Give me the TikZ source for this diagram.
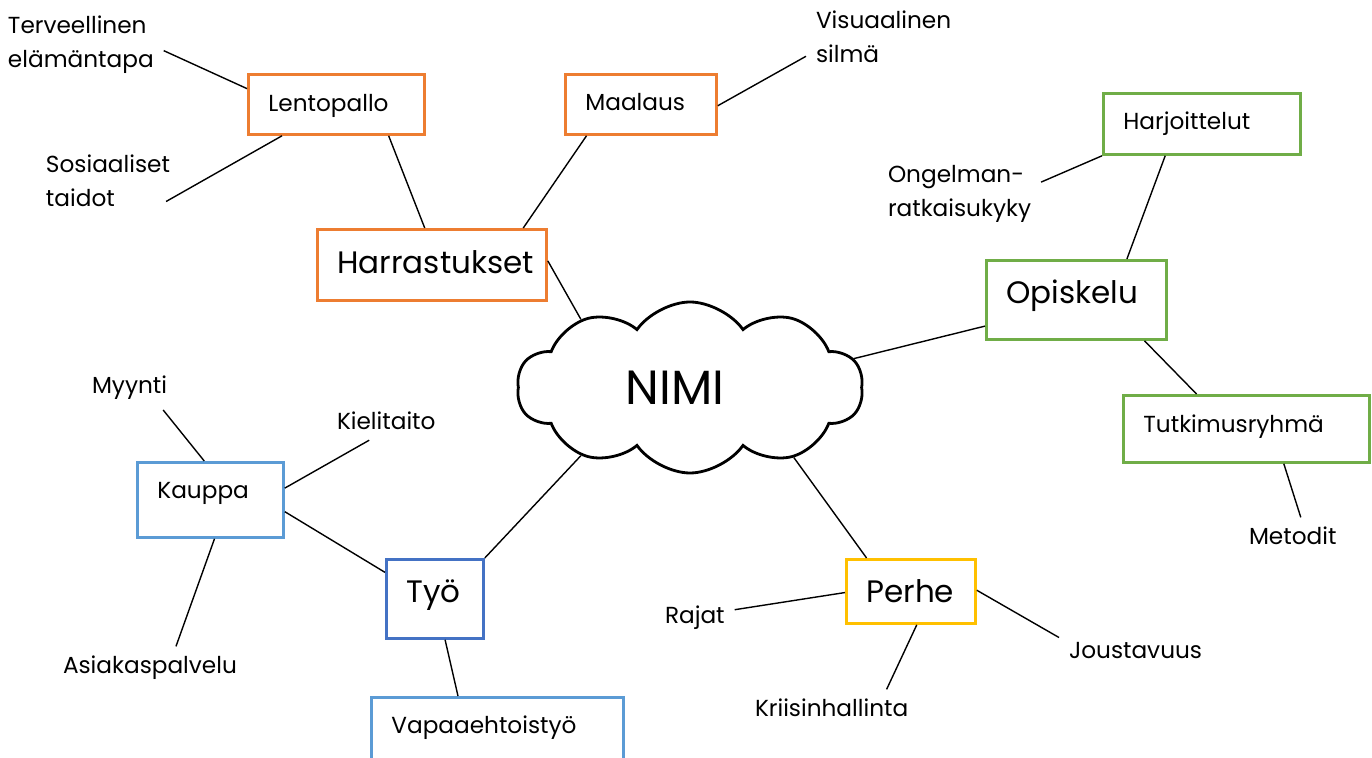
\documentclass[tikz,border=0pt]{standalone}
\usepackage{fontspec}
\setmainfont{Poppins}
\usetikzlibrary{shapes.symbols}
\definecolor{orangeline}{RGB}{237,125,49}
\definecolor{greenline}{RGB}{112,173,71}
\definecolor{skyline}{RGB}{91,155,213}
\definecolor{blueline}{RGB}{68,114,196}
\definecolor{goldline}{RGB}{255,192,0}
\begin{document}
\begin{tikzpicture}[x=0.5pt, y=-0.5pt,
    box/.style={draw, line width=1.4pt, anchor=north west, align=left,
        inner xsep=10pt, inner ysep=0pt, font=\fontsize{11.6}{17}\selectfont},
    bigbox/.style={box, font=\fontsize{15.5}{19}\selectfont},
    note/.style={inner sep=0pt, outer sep=5pt, align=left,
        font=\fontsize{11.6}{17}\selectfont},
    link/.style={line width=0.7pt}]
    \useasboundingbox (0,0) rectangle (1372,758);
    \clip (0,0) rectangle (1372,758);

    % centre
    \node[cloud, draw, line width=1.4pt, cloud puffs=10, cloud puff arc=110,
        cloud ignores aspect, minimum width=173pt, minimum height=85.5pt,
        font=\fontsize{24}{28}\selectfont] (nimi) at (690,387.5) {NIMI\hspace*{15pt}};

    % Harrastukset
    \node[bigbox, draw=orangeline, text width=94.5pt, text height=22pt, text depth=13.5pt] (harr) at (316,228) {Harrastukset};
    \node[box, draw=orangeline, text width=68pt, text height=18.5pt, text depth=11.5pt] (lento) at (247,73) {Lentopallo};
    \node[box, draw=orangeline, text width=55.5pt, text height=18pt, text depth=12pt] (maal) at (564,73) {Maalaus};
    \node[note, anchor=north west] (terv) at (-2,6) {Terveellinen\\elämäntapa};
    \node[note, anchor=north west] (sosi) at (36,145) {Sosiaaliset\\taidot};
    \node[note, anchor=north west] (visu) at (806,1) {Visuaalinen\\silmä};

    % Opiskelu
    \node[bigbox, draw=greenline, text width=70pt, text height=21.5pt, text depth=18pt] (opis) at (985,259) {Opiskelu};
    \node[box, draw=greenline, text width=78.5pt, text height=18pt, text depth=12.5pt] (harj) at (1102,92) {Harjoittelut};
    \node[box, draw=greenline, text width=103pt, text height=18.5pt, text depth=15pt] (tutk) at (1122,394) {Tutkimusryhmä};
    \node[note, anchor=north west] (onge) at (878,155) {Ongelman-\\ratkaisukyky};
    \node[note, anchor=base west] (meto) at (1239,545) {Metodit};

    % Perhe
    \node[bigbox, draw=goldline, text width=44.5pt, text height=21.5pt, text depth=10.5pt] (perh) at (845,558) {Perhe};
    \node[note, anchor=base west] (raja) at (655,624) {Rajat};
    \node[note, anchor=base west] (krii) at (745,717) {Kriisinhallinta};
    \node[note, anchor=base west] (jous) at (1059,659) {Joustavuus};

    % Työ
    \node[bigbox, draw=blueline, text width=28.5pt, text height=21.5pt, text depth=18pt] (tyo) at (385,558) {Työ};
    \node[box, draw=skyline, text width=53pt, text height=18pt, text depth=19.5pt] (kaup) at (136,461) {Kauppa};
    \node[box, draw=skyline, text width=106pt, text height=18pt, text depth=20pt] (vapa) at (370,696) {Vapaaehtoistyö};
    \node[note, anchor=base west] (myyn) at (82,394) {Myynti};
    \node[note, anchor=base west] (kiel) at (327,430) {Kielitaito};
    \node[note, anchor=base west] (asia) at (53,674) {Asiakaspalvelu};

    \draw[link] (terv.-4) -- (lento.170);
    \draw[link, shorten <=-8pt] (sosi.-10) -- (lento.-150.6);
    \draw[link] (lento.-31.5) -- (harr.101.5);
    \draw[link] (maal.-150.3) -- (harr.22);
    \draw[link] (visu.194) -- (maal.-1);
    \draw[link] (harr.2) -- (nimi.148.5);

    \draw[link] (onge.8) -- (harj.south west);
    \draw[link] (harj.-139.3) -- (opis.39);
    \draw[link] (nimi.10) -- (opis.-164.6);
    \draw[link] (opis.-31) -- (tutk.145.6);
    \draw[link] (tutk.-43) -- (meto.67);

    \draw[link] (nimi.-34.8) -- (perh.143);
    \draw[link] (raja.12) -- (perh.181);
    \draw[link] (perh.-80) -- (krii.19.5);
    \draw[link] (perh.1) -- (jous.170);

    \draw[link] (nimi.-148.5) -- (tyo.north east);
    \draw[link] (tyo.152) -- (kaup.-9);
    \draw[link] (kiel.-132) -- (kaup.9);
    \draw[link] (myyn.-33) -- (kaup.99);
    \draw[link] (kaup.-84) -- (asia.40);
    \draw[link] (tyo.-76.5) -- (vapa.135.7);
\end{tikzpicture}
\end{document}
